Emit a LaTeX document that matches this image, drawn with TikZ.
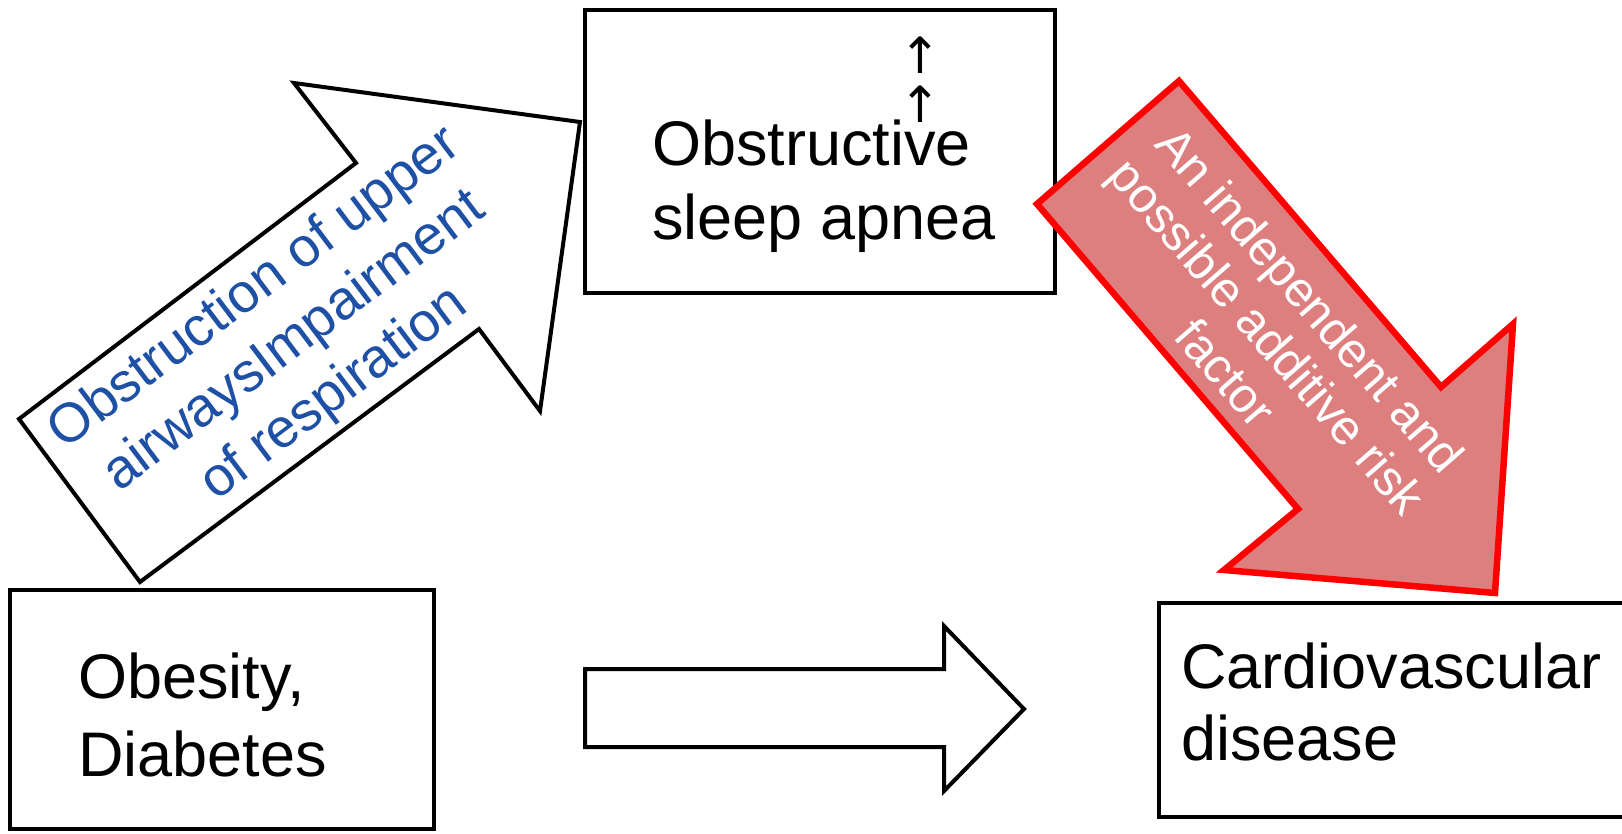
\documentclass[tikz,border=0pt]{standalone}
\usepackage{fontspec}
\setmainfont{Liberation Sans}
\newfontfamily\symfont{DejaVu Sans}
\definecolor{redfill}{RGB}{222,127,127}
\definecolor{bluetext}{RGB}{30,80,165}
\tikzset{
  boxshape/.style={draw=black, line width=4pt, rectangle, inner sep=0pt, outer sep=0pt},
  whitearrow/.style={draw=black, fill=white, line width=4pt, line join=miter},
  redarrow/.style={draw=red, fill=redfill, line width=6.5pt, line join=miter},
  lbl/.style={font=\fontsize{63}{74}\selectfont, inner sep=0pt, anchor=base west},
  bluelbl/.style={font=\fontsize{55}{66}\selectfont, text=bluetext, align=center, inner sep=0pt, rotate=37},
  whitelbl/.style={font=\fontsize{49}{56}\selectfont, text=white, align=center, inner sep=0pt, rotate=-49},
  uparrowlbl/.style={font=\symfont\fontsize{50}{50}\selectfont, inner sep=0pt}
}
\begin{document}
\begin{tikzpicture}[x=1pt,y=-1pt]
\useasboundingbox (0,0) rectangle (1622,834);
\clip (0,0) rectangle (1622,834);
% boxes
\node[boxshape, minimum width=470pt, minimum height=283pt] (osa) at (820,151.5) {};
\node[boxshape, minimum width=424pt, minimum height=239pt] (obes) at (222,709.5) {};
\node[boxshape, minimum width=481pt, minimum height=214pt] (cvd) at (1399.5,710) {};
% box texts
\node[lbl] (osa1) at (652,166) {Obstructive};
\node[lbl] (osa2) at (652,240) {sleep apnea};
\node[lbl] (obes1) at (78,698) {Obesity,};
\node[lbl] (obes2) at (78,776) {Diabetes};
\node[lbl] (cvd1) at (1181,688) {Cardiovascular};
\node[lbl] (cvd2) at (1181,760) {disease};
% small up arrows
\node[uparrowlbl] (up1) at (920,55) {↑};
\node[uparrowlbl] (up2) at (920,104) {↑};
% white diagonal block arrow
\draw[whitearrow] (19,419) -- (356,163) -- (294,83) -- (580,122) -- (540,411) -- (479,329) -- (140,582) -- cycle;
\node[bluelbl] (obstr) at (295,342) {Obstruction of upper\\airwaysImpairment\\of respiration};
% red block arrow
\draw[redarrow] (1179,81) -- (1441,387) -- (1513,324) -- (1495,593) -- (1224,570) -- (1298,509) -- (1037,204) -- cycle;
\node[whitelbl] (risk) at (1268,336) {An independent and\\possible additive risk\\factor};
% horizontal block arrow
\draw[whitearrow] (585,669) -- (944,669) -- (944,626) -- (1024,709) -- (944,791) -- (944,747) -- (585,747) -- cycle;
\end{tikzpicture}
\end{document}
